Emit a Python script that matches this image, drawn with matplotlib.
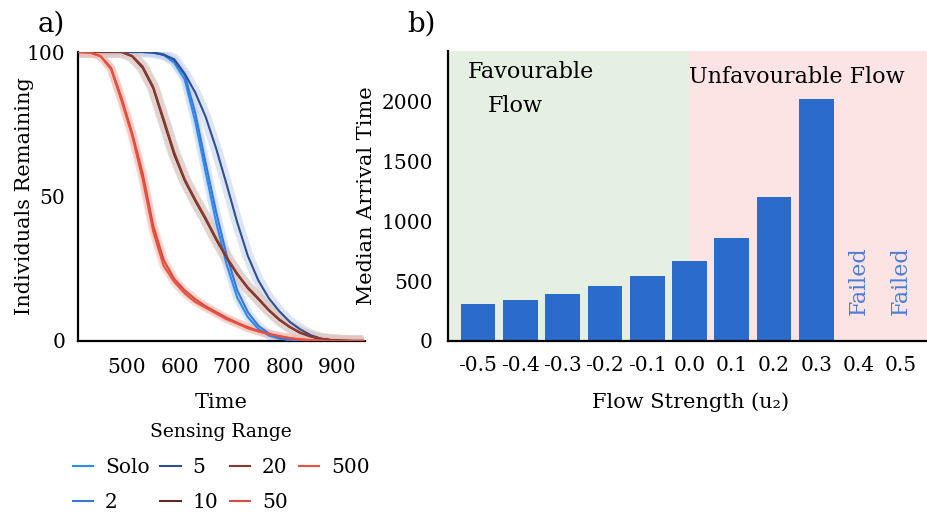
import matplotlib
matplotlib.use("Agg")
import matplotlib.pyplot as plt

plt.rcParams['font.family'] = ['DejaVu Serif', 'DejaVu Sans']

# ---------------- panel a data ----------------
time = [410, 430, 450, 470, 490, 510, 530, 550, 570, 590, 610, 630, 650, 670,
        690, 710, 730, 750, 770, 790, 810, 830, 850, 870, 890, 910, 930, 950]

solo = [100, 100, 100, 100, 100, 100, 100, 99.8, 99.0, 96.3, 90.5, 76.0, 58.3, 41.0,
        26.3, 15.0, 8.3, 4.2, 1.9, 0.8, 0.3, 0.1, 0, 0, 0, 0, 0, 0]
r2 = [100, 100, 100, 100, 100, 100, 100, 99.8, 99.2, 97.0, 92.0, 79.0, 61.5, 44.5,
      29.5, 17.5, 10.0, 5.3, 2.6, 1.1, 0.4, 0.1, 0, 0, 0, 0, 0, 0]
r5 = [100, 100, 100, 100, 100, 100, 100, 99.8, 99.0, 97.5, 92.5, 86.0, 77.5, 66.5,
      54.0, 41.0, 29.5, 21.0, 14.8, 10.3, 6.6, 4.0, 2.0, 0.8, 0.3, 0.1, 0, 0]
r10 = [100, 100, 100, 100, 100, 98.5, 94.5, 87.5, 76.0, 64.5, 55.5, 48.5, 42.0, 35.0,
       28.7, 23.0, 18.3, 14.5, 10.6, 7.3, 4.8, 2.8, 1.5, 0.7, 0.3, 0.1, 0, 0]
r20 = [100, 100, 100, 100, 100, 98.7, 95.0, 88.0, 76.8, 65.3, 56.0, 49.0, 42.5, 35.5,
       29.0, 23.3, 18.6, 14.8, 10.8, 7.5, 4.9, 2.9, 1.6, 0.7, 0.3, 0.1, 0, 0]
r50 = [100, 99.8, 98.6, 94.5, 84.0, 72.0, 58.0, 40.0, 28.0, 21.5, 17.5, 14.5, 12.0, 10.0,
       8.0, 6.3, 4.8, 3.5, 2.5, 1.7, 1.0, 0.6, 0.3, 0.1, 0, 0, 0, 0]
r500 = [100, 99.8, 98.5, 94.0, 83.0, 71.0, 56.0, 38.0, 26.0, 20.5, 16.5, 13.5, 11.5, 9.5,
        7.5, 6.0, 4.4, 3.3, 2.4, 1.6, 1.0, 0.5, 0.2, 0.1, 0, 0, 0, 0]

range_labels = ["Solo", "2", "5", "10", "20", "50", "500"]
range_series = [solo, r2, r5, r10, r20, r50, r500]
line_colors = ["#2a8cf0", "#3a78d6", "#2f4f94", "#5e2a20", "#8c3a30", "#d44b3f", "#e8503f"]
band_colors = ["#b9d3f2", "#c3d4ee", "#c2d0e8", "#d9c7c2", "#dcc9c4", "#f0bcb4", "#f3c0b6"]
band_widths = [6, 6, 8, 8.5, 8.5, 6, 6]

time_ticks = [500, 600, 700, 800, 900]
y_ticks_a = [0, 50, 100]

# ---------------- panel b data ----------------
flow_labels = ["-0.5", "-0.4", "-0.3", "-0.2", "-0.1", "0.0", "0.1", "0.2", "0.3", "0.4", "0.5"]
arrival = [311, 345, 395, 456, 540, 665, 857, 1199, 2016]
failed_idx = [9, 10]
y_ticks_b = [0, 500, 1000, 1500, 2000]

fig = plt.figure(figsize=(9.28, 5.18), dpi=100)

# ---------------- panel a ----------------
axa = fig.add_axes([78 / 928, 1 - 341 / 518, (365 - 78) / 928, (341 - 52) / 518])
for ys, bc, bw in zip(range_series, band_colors, band_widths):
    axa.plot(time, ys, color=bc, lw=bw, alpha=0.55, solid_capstyle='butt',
             solid_joinstyle='round', zorder=1)
handles = []
for ys, lc, lab in zip(range_series, line_colors, range_labels):
    h, = axa.plot(time, ys, color=lc, lw=1.5, label=lab, zorder=3,
                  solid_joinstyle='round')
    handles.append(h)
axa.set_xlim(407, 953)
axa.set_ylim(0, 100)
axa.set_xticks(time_ticks)
axa.set_yticks(y_ticks_a)
axa.tick_params(length=0, labelsize=14.5)
axa.tick_params(axis='x', pad=12)
axa.tick_params(axis='y', pad=9)
for s in ['top', 'right']:
    axa.spines[s].set_visible(False)
for s in ['left', 'bottom']:
    axa.spines[s].set_linewidth(1.6)
axa.set_ylabel("Individuals Remaining", fontsize=15)
axa.yaxis.set_label_coords(-0.155, 0.5)
axa.set_xlabel("Time", fontsize=15)
axa.xaxis.set_label_coords(0.5, -(402 - 341) / 289, transform=axa.transAxes)
axa.xaxis.label.set_va('center')

leg = fig.legend(handles=handles, labels=range_labels, ncol=4,
                 loc='upper center', bbox_to_anchor=(221 / 928, 1 - 405 / 518),
                 frameon=False, fontsize=14.5, title="Sensing Range", title_fontsize=13.5,
                 handlelength=1.0, handletextpad=0.6, columnspacing=0.55,
                 labelspacing=0.8)
leg._legend_box.sep = 12

fig.text(38 / 928, 1 - 24 / 518, "a)", fontsize=20, va='center', ha='left')

# ---------------- panel b ----------------
axb = fig.add_axes([448 / 928, 1 - 341 / 518, (928 - 448) / 928, (341 - 51) / 518])
xpos = list(range(len(flow_labels)))
axb.axvspan(-0.71, 5, color="#e5f0e3", zorder=0, lw=0)
axb.axvspan(5, 10.64, color="#fde4e4", zorder=0, lw=0)
axb.bar(xpos[:len(arrival)], arrival, width=0.82, color="#2b6bcb", zorder=2)
for i in failed_idx:
    axb.text(xpos[i], 215, "Failed", rotation=90, color="#4a7fd6", fontsize=16,
             ha='center', va='bottom')
axb.text(-0.24, 2242, "Favourable", fontsize=16, ha='left', va='center')
axb.text(0.24, 1958, "Flow", fontsize=16, ha='left', va='center')
axb.text(5.0, 2200, "Unfavourable Flow", fontsize=16, ha='left', va='center')
axb.set_xlim(-0.71, 10.64)
axb.set_ylim(0, 2417)
axb.set_xticks(xpos)
axb.set_xticklabels(flow_labels)
axb.set_yticks(y_ticks_b)
axb.tick_params(length=0, labelsize=14.5)
axb.tick_params(axis='x', pad=11)
axb.tick_params(axis='y', pad=11)
for s in ['top', 'right']:
    axb.spines[s].set_visible(False)
for s in ['left', 'bottom']:
    axb.spines[s].set_linewidth(1.6)
axb.set_ylabel("Median Arrival Time", fontsize=15, labelpad=4)
axb.set_xlabel("Flow Strength (u\u2082)", fontsize=15)
axb.xaxis.set_label_coords((691 - 448) / 480, -(402 - 341) / 290, transform=axb.transAxes)
axb.xaxis.label.set_va('center')

fig.text(407 / 928, 1 - 24 / 518, "b)", fontsize=20, va='center', ha='left')

fig.savefig("out.png", dpi=100)
